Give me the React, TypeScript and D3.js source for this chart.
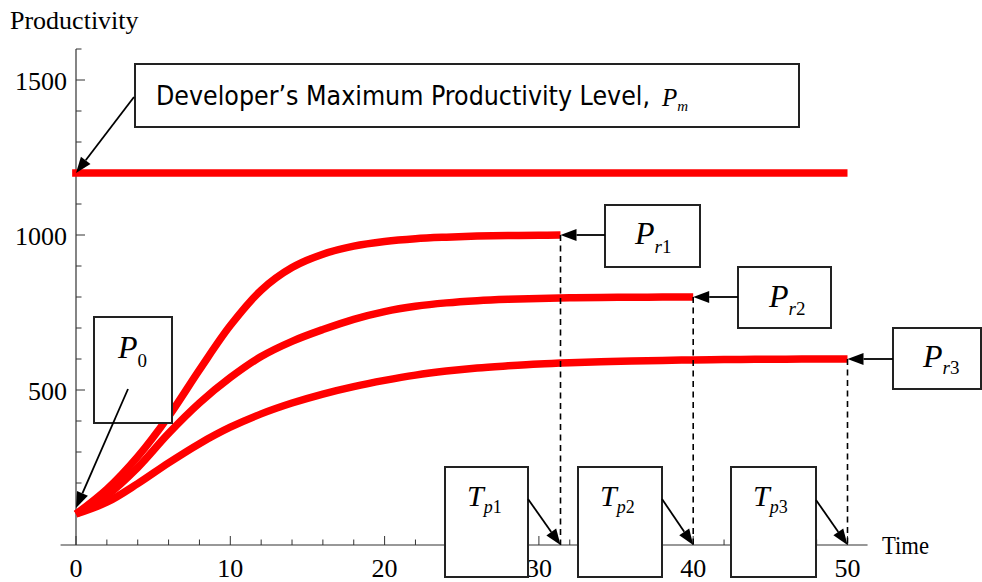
import React from "react";
import * as d3 from "d3";

// Productivity growth curves toward three plateau levels, plus the developer's ceiling.
const TIME_TICKS = [0, 10, 20, 30, 40, 50];
const TIME_MINOR = [2, 4, 6, 8, 12, 14, 16, 18, 22, 24, 26, 28, 32, 34, 36, 38, 42, 44, 46, 48];
const PROD_TICKS = [500, 1000, 1500];
const PROD_MINOR = [100, 200, 300, 400, 600, 700, 800, 900, 1100, 1200, 1300, 1400, 1600];

const PM_LEVEL = 1200;
const PM_SPAN = [-0.25, 50];
const P0 = 100;

const CURVE1_T = [0, 2, 4, 6, 8, 10, 12, 14, 16, 18, 20, 22, 24, 26, 28, 30, 31.4];
const CURVE1_P = [100, 180, 285, 415, 565, 708, 822, 895, 938, 964, 979, 988, 993, 996.5, 998.3, 999.3, 1000];

const CURVE2_T = [0, 2, 4, 6, 8, 10, 12, 14, 16, 18, 20, 22, 24, 26, 28, 30, 32, 34, 36, 38, 40];
const CURVE2_P = [100, 160, 250, 360, 458, 540, 608, 657, 695, 728, 753, 770, 781, 788, 792.5, 795.5, 797.5, 798.6, 799.3, 799.7, 800];

const CURVE3_T = [0, 2, 4, 6, 8, 10, 12, 14, 16, 18, 20, 22, 24, 26, 28, 30, 32, 34, 36, 38, 40, 42, 44, 46, 48, 50];
const CURVE3_P = [100, 138, 198, 265, 327, 380, 423, 458, 487, 511, 531, 548, 561, 571, 578, 584, 588, 591, 593.5, 595.5, 597, 598, 598.8, 599.4, 599.8, 600];

const W = 982;
const H = 582;
const SERIF = "'Liberation Serif', 'Times New Roman', serif";
const NARROW = "'Liberation Sans Narrow', 'DejaVu Sans Condensed', 'Liberation Sans', sans-serif";

const x = d3.scaleLinear().domain([0, 50]).range([76, 847.5]);
const y = d3.scaleLinear().domain([0, 1500]).range([545, 80]);

const line = d3
  .line<[number, number]>()
  .x((d) => x(d[0]))
  .y((d) => y(d[1]))
  .curve(d3.curveCatmullRom.alpha(0.5));

const zip = (t: number[], p: number[]) => t.map((v, i) => [v, p[i]] as [number, number]);

const curves = [zip(CURVE1_T, CURVE1_P), zip(CURVE2_T, CURVE2_P), zip(CURVE3_T, CURVE3_P)];
const ends = curves.map((c) => c[c.length - 1]);

function Arrow({ from, tip }: { from: [number, number]; tip: [number, number] }) {
  const len = 16;
  const half = 6;
  const dx = tip[0] - from[0];
  const dy = tip[1] - from[1];
  const d = Math.hypot(dx, dy);
  const ux = dx / d;
  const uy = dy / d;
  const bx = tip[0] - ux * len;
  const by = tip[1] - uy * len;
  const pts = [
    [tip[0], tip[1]],
    [bx - uy * half, by + ux * half],
    [bx + uy * half, by - ux * half],
  ]
    .map((p) => p.join(","))
    .join(" ");
  return (
    <g>
      <line x1={from[0]} y1={from[1]} x2={bx} y2={by} stroke="#000" strokeWidth={1.8} />
      <polygon points={pts} fill="#000" />
    </g>
  );
}

function Box({ bx, by, bw, bh }: { bx: number; by: number; bw: number; bh: number }) {
  return <rect x={bx} y={by} width={bw} height={bh} fill="#fff" stroke="#222" strokeWidth={2} />;
}

function MathLabel({
  tx,
  ty,
  main,
  subItalic,
  subUpright,
  size = 32,
  subSize = 19,
  drop = 9,
}: {
  tx: number;
  ty: number;
  main: string;
  subItalic?: string;
  subUpright?: string;
  size?: number;
  subSize?: number;
  drop?: number;
}) {
  return (
    <text x={tx} y={ty} fontFamily={SERIF} fontSize={size} fill="#000">
      <tspan fontStyle="italic">{main}</tspan>
      {subItalic ? (
        <tspan fontStyle="italic" fontSize={subSize} dy={drop}>
          {subItalic}
        </tspan>
      ) : null}
      {subUpright ? (
        <tspan fontSize={subSize} dy={subItalic ? 0 : drop}>
          {subUpright}
        </tspan>
      ) : null}
    </text>
  );
}

export default function App() {
  const x0 = x(0);
  const y0 = y(0);
  return (
    <svg
      width={W}
      height={H}
      viewBox={`0 0 ${W} ${H}`}
      style={{ position: "absolute", left: 0, top: 0, background: "#fff" }}
    >
      <rect width={W} height={H} fill="#fff" />

      {/* axes */}
      <line x1={x(-1)} y1={y0} x2={x(51.3)} y2={y0} stroke="#333" strokeWidth={1.2} />
      <line x1={x0} y1={y0} x2={x0} y2={y(1600)} stroke="#333" strokeWidth={1.2} />
      {TIME_TICKS.map((t) => (
        <g key={"xt" + t}>
          <line x1={x(t)} x2={x(t)} y1={y0} y2={y0 - 9} stroke="#333" strokeWidth={1} />
          <text x={x(t)} y={577} textAnchor="middle" fontFamily={SERIF} fontSize={26}>
            {t}
          </text>
        </g>
      ))}
      {TIME_MINOR.map((t) => (
        <line key={"xm" + t} x1={x(t)} x2={x(t)} y1={y0} y2={y0 - 5.5} stroke="#333" strokeWidth={1} />
      ))}
      {PROD_TICKS.map((p) => (
        <g key={"yt" + p}>
          <line x1={x0} x2={x0 + 9} y1={y(p)} y2={y(p)} stroke="#333" strokeWidth={1} />
          <text x={67} y={y(p) + 10} textAnchor="end" fontFamily={SERIF} fontSize={26}>
            {p}
          </text>
        </g>
      ))}
      {PROD_MINOR.map((p) => (
        <line key={"ym" + p} x1={x0} x2={x0 + 5.5} y1={y(p)} y2={y(p)} stroke="#333" strokeWidth={1} />
      ))}
      <text x={10} y={29} fontFamily={SERIF} fontSize={26}>
        Productivity
      </text>
      <text x={882} y={554} fontFamily={SERIF} fontSize={26} textLength={47} lengthAdjust="spacingAndGlyphs">
        Time
      </text>

      {/* maximum level and growth curves */}
      <line
        x1={x(PM_SPAN[0])}
        x2={x(PM_SPAN[1])}
        y1={y(PM_LEVEL)}
        y2={y(PM_LEVEL)}
        stroke="#ff0000"
        strokeWidth={7.5}
      />
      {curves.map((c, i) => (
        <path key={"c" + i} d={line(c) || ""} fill="none" stroke="#ff0000" strokeWidth={7.5} strokeLinejoin="round" />
      ))}

      {/* drop lines to the plateau times */}
      {ends.map((e, i) => (
        <line
          key={"dl" + i}
          x1={x(e[0])}
          x2={x(e[0])}
          y1={y(e[1])}
          y2={y0}
          stroke="#000"
          strokeWidth={1.6}
          strokeDasharray="6,4.5"
        />
      ))}

      {/* callout boxes */}
      <Box bx={135} by={64} bw={664} bh={63} />
      <text x={156} y={105} fontFamily={NARROW} fontSize={27} textLength={494} lengthAdjust="spacingAndGlyphs">
        Developer’s Maximum Productivity Level,
      </text>
      <MathLabel tx={662} ty={106} main="P" subItalic="m" size={25} subSize={15} drop={5} />

      <Box bx={605} by={205} bw={95} bh={62} />
      <MathLabel tx={635} ty={244} main="P" subItalic="r" subUpright="1" drop={9} />

      <Box bx={738} by={267} bw={93} bh={61} />
      <MathLabel tx={769} ty={307} main="P" subItalic="r" subUpright="2" drop={8} />

      <Box bx={893} by={328} bw={88} bh={61} />
      <MathLabel tx={923} ty={367} main="P" subItalic="r" subUpright="3" drop={7} />

      <Box bx={94} by={317} bw={78} bh={106} />
      <MathLabel tx={118} ty={358} main="P" subUpright="0" drop={9} />

      <Box bx={445} by={467} bw={83} bh={110} />
      <MathLabel tx={467} ty={506} main="T" subItalic="p" subUpright="1" size={30} subSize={18} drop={7} />

      <Box bx={578} by={467} bw={84} bh={110} />
      <MathLabel tx={600} ty={506} main="T" subItalic="p" subUpright="2" size={30} subSize={18} drop={7} />

      <Box bx={731} by={467} bw={85} bh={110} />
      <MathLabel tx={753} ty={506} main="T" subItalic="p" subUpright="3" size={30} subSize={18} drop={7} />

      {/* callout arrows */}
      <Arrow from={[134, 97]} tip={[x(0), y(PM_LEVEL)]} />
      <Arrow from={[605, y(ends[0][1])]} tip={[x(ends[0][0]), y(ends[0][1])]} />
      <Arrow from={[738, y(ends[1][1])]} tip={[x(ends[1][0]), y(ends[1][1])]} />
      <Arrow from={[893, y(ends[2][1])]} tip={[x(ends[2][0]), y(ends[2][1])]} />
      <Arrow from={[128, 389]} tip={[x(0), y(P0) - 6]} />
      <Arrow from={[528, 499]} tip={[x(ends[0][0]), y0]} />
      <Arrow from={[662, 499]} tip={[x(ends[1][0]), y0]} />
      <Arrow from={[816, 500]} tip={[x(ends[2][0]), y0]} />
    </svg>
  );
}
